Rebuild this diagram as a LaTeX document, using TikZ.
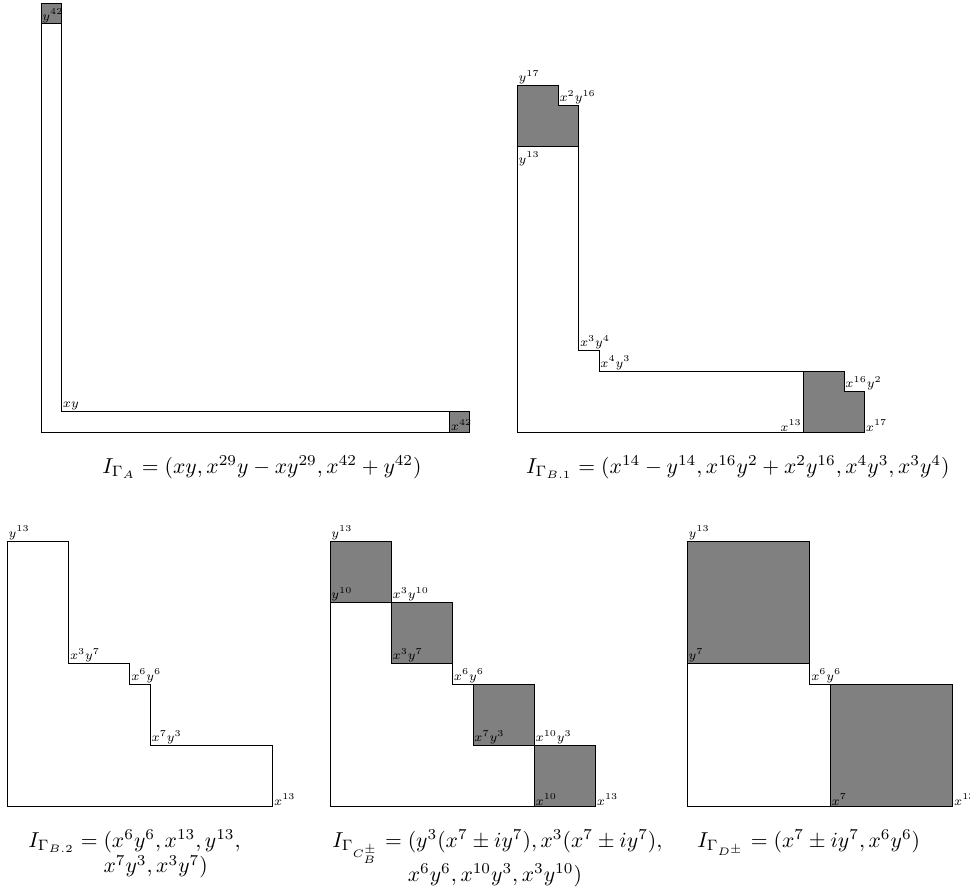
\documentclass[tikz,border=0pt]{standalone}
\usepackage{amsmath,amssymb}

\begin{document}
\begin{tikzpicture}[
  x=0.5pt,
  y=0.5pt,
  outline/.style={draw=black, line width=0.4pt},
  shaded/.style={outline, fill=gray},
  mono/.style={font=\scriptsize, scale=0.9, anchor=south west, inner sep=0.6pt},
  monoleft/.style={mono, anchor=south east},
  caption/.style={scale=1.08, inner sep=0pt}
]
\useasboundingbox (0,0) rectangle (970,891);

% Gamma_A (half scale)
\begin{scope}[shift={(20.5pt,229.35pt)}, x=5.105pt, y=5.105pt]
\draw[outline] (0,0) -- (42,0) -- (42,2) -- (2,2) -- (2,42) -- (0,42) -- cycle;
\draw[shaded] (0,40) rectangle (2,42);
\draw[shaded] (40,0) rectangle (42,2);
\node[mono] (aY) at (0,40) {$y^{42}$};
\node[mono] (aXY) at (2,2) {$xy$};
\node[mono] (aX) at (40,0) {$x^{42}$};
\end{scope}

% Gamma_B.1
\begin{scope}[shift={(258.65pt,229.25pt)}, x=10.21pt, y=10.21pt]
\draw[outline] (0,0) -- (17,0) -- (17,2) -- (16,2) -- (16,3) -- (4,3) -- (4,4) -- (3,4) -- (3,16) -- (2,16) -- (2,17) -- (0,17) -- cycle;
\draw[shaded] (0,14) -- (3,14) -- (3,16) -- (2,16) -- (2,17) -- (0,17) -- cycle;
\draw[shaded] (14,0) -- (17,0) -- (17,2) -- (16,2) -- (16,3) -- (14,3) -- cycle;
\node[mono] (bY17) at (0,17) {$y^{17}$};
\node[mono] (bX2Y16) at (2,16) {$x^2y^{16}$};
\node[mono] (bY13) at (0,13) {$y^{13}$};
\node[mono] (bX3Y4) at (3,4) {$x^3y^4$};
\node[mono] (bX4Y3) at (4,3) {$x^4y^3$};
\node[mono] (bX16Y2) at (16,2) {$x^{16}y^2$};
\node[monoleft] (bX13) at (14,0) {$x^{13}$};
\node[mono] (bX17) at (17,0) {$x^{17}$};
\end{scope}

% Gamma_B.2
\begin{scope}[shift={(3.65pt,42.15pt)}, x=10.21pt, y=10.21pt]
\draw[outline] (0,0) -- (13,0) -- (13,3) -- (7,3) -- (7,6) -- (6,6) -- (6,7) -- (3,7) -- (3,13) -- (0,13) -- cycle;
\node[mono] (cY13) at (0,13) {$y^{13}$};
\node[mono] (cX3Y7) at (3,7) {$x^3y^7$};
\node[mono] (cX6Y6) at (6,6) {$x^6y^6$};
\node[mono] (cX7Y3) at (7,3) {$x^7y^3$};
\node[mono] (cX13) at (13,0) {$x^{13}$};
\end{scope}

% Gamma_C^pm_B
\begin{scope}[shift={(165pt,42.15pt)}, x=10.21pt, y=10.21pt]
\draw[outline] (0,0) -- (13,0) -- (13,3) -- (10,3) -- (10,6) -- (7,6) -- (6,6) -- (6,10) -- (3,10) -- (3,13) -- (0,13) -- cycle;
\draw[shaded] (0,10) rectangle (3,13);
\draw[shaded] (3,7) rectangle (6,10);
\draw[shaded] (7,3) rectangle (10,6);
\draw[shaded] (10,0) rectangle (13,3);
\node[mono] (dY13) at (0,13) {$y^{13}$};
\node[mono] (dY10) at (0,10) {$y^{10}$};
\node[mono] (dX3Y10) at (3,10) {$x^3y^{10}$};
\node[mono] (dX3Y7) at (3,7) {$x^3y^7$};
\node[mono] (dX6Y6) at (6,6) {$x^6y^6$};
\node[mono] (dX7Y3) at (7,3) {$x^7y^3$};
\node[mono] (dX10Y3) at (10,3) {$x^{10}y^3$};
\node[mono] (dX10) at (10,0) {$x^{10}$};
\node[mono] (dX13) at (13,0) {$x^{13}$};
\end{scope}

% Gamma_D^pm
\begin{scope}[shift={(343.65pt,42.15pt)}, x=10.21pt, y=10.21pt]
\draw[outline] (0,0) -- (13,0) -- (13,6) -- (7,6) -- (6,6) -- (6,13) -- (0,13) -- cycle;
\draw[shaded] (0,7) rectangle (6,13);
\draw[shaded] (7,0) rectangle (13,6);
\node[mono] (eY13) at (0,13) {$y^{13}$};
\node[mono] (eY7) at (0,7) {$y^7$};
\node[mono] (eX6Y6) at (6,6) {$x^6y^6$};
\node[mono] (eX7) at (7,0) {$x^7$};
\node[mono] (eX13) at (13,0) {$x^{13}$};
\end{scope}

% ideals
\node[caption, anchor=base] (capA) at (262,418) {$I_{\Gamma_A} = (xy, x^{29}y - xy^{29}, x^{42}+y^{42})$};
\node[caption, anchor=base east] (capB1) at (950,418) {$I_{\Gamma_{B.1}} = (x^{14}-y^{14}, x^{16}y^2+x^2y^{16}, x^4y^3, x^3y^4)$};
\node[caption, anchor=base west] (capB2) at (28,44) {$\begin{array}[t]{@{}r@{}l@{}}
  I_{\Gamma_{B.2}} = {} & (x^6y^6, x^{13}, y^{13}, \\
  & x^7y^3, x^3y^7)
\end{array}$};
\node[caption, anchor=base west] (capC) at (332,44) {$\begin{array}[t]{@{}r@{}l@{}}
  I_{\Gamma_{C_B^\pm}} = {} & (y^3(x^7 \pm iy^7), x^3(x^7 \pm iy^7), \\
  & x^6y^6, x^{10}y^3, x^3y^{10})
\end{array}$};
\node[caption, anchor=base west] (capD) at (697,44) {$I_{\Gamma_{D^\pm}} = (x^7 \pm iy^7, x^6y^6)$};
\end{tikzpicture}
\end{document}
